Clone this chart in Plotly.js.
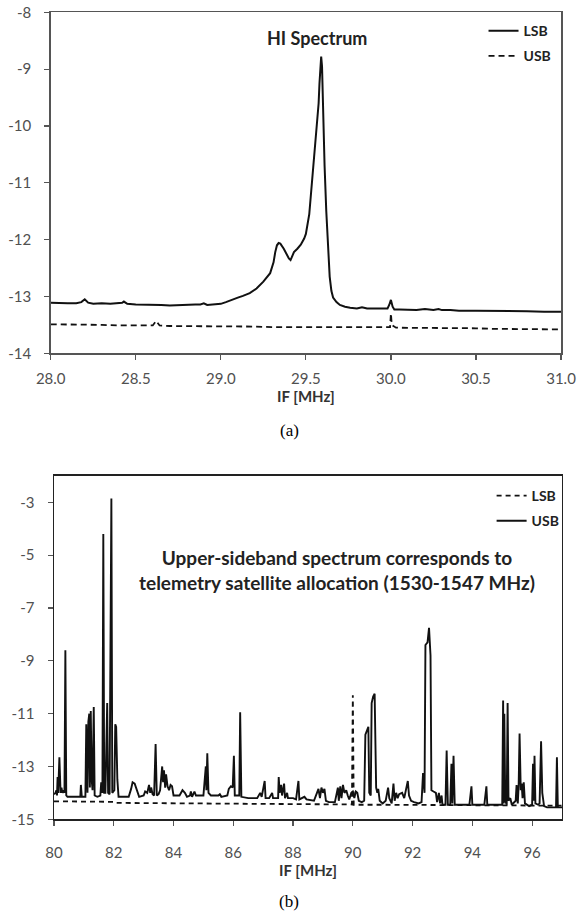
<!DOCTYPE html>
<html>
<head>
<meta charset="utf-8">
<script src="https://cdn.plot.ly/plotly-3.0.1.min.js"></script>
<style>html,body{margin:0;padding:0;background:#fff;}#chart{width:577px;height:911px;}</style>
</head>
<body>
<div id="chart"></div>
<script>
// ---------- Panel (a): HI spectrum ----------
const hiLsbX = [28.00,28.05,28.10,28.15,28.18,28.20,28.22,28.25,28.30,28.35,28.40,28.42,28.43,28.45,28.50,28.55,28.60,28.65,28.70,28.75,28.80,28.85,28.88,28.90,28.92,28.95,29.00,29.03,29.06,29.10,29.13,29.17,29.21,29.25,29.29,29.31,29.32,29.33,29.34,29.35,29.37,29.38,29.40,29.41,29.42,29.43,29.45,29.47,29.49,29.50,29.52,29.53,29.54,29.55,29.56,29.57,29.575,29.58,29.585,29.59,29.595,29.60,29.61,29.62,29.63,29.64,29.65,29.66,29.68,29.70,29.73,29.76,29.80,29.83,29.86,29.90,29.95,29.98,29.99,30.00,30.01,30.02,30.05,30.10,30.15,30.20,30.25,30.28,30.30,30.35,30.40,30.50,30.60,30.70,30.80,30.90,31.00];
const hiLsbY = [-13.11,-13.12,-13.12,-13.12,-13.10,-13.05,-13.11,-13.13,-13.12,-13.13,-13.12,-13.11,-13.09,-13.13,-13.14,-13.14,-13.14,-13.15,-13.16,-13.15,-13.15,-13.14,-13.14,-13.12,-13.15,-13.14,-13.13,-13.10,-13.06,-13.02,-12.99,-12.94,-12.86,-12.74,-12.59,-12.40,-12.22,-12.10,-12.06,-12.07,-12.16,-12.22,-12.33,-12.36,-12.30,-12.22,-12.16,-12.09,-11.98,-11.90,-11.55,-11.20,-10.85,-10.45,-10.15,-9.85,-9.60,-9.25,-8.92,-8.78,-8.95,-9.60,-10.70,-11.50,-12.20,-12.65,-12.90,-13.02,-13.10,-13.15,-13.18,-13.20,-13.21,-13.19,-13.21,-13.21,-13.22,-13.21,-13.15,-13.06,-13.18,-13.23,-13.23,-13.23,-13.24,-13.22,-13.24,-13.22,-13.24,-13.24,-13.25,-13.25,-13.25,-13.26,-13.26,-13.27,-13.27];

const hiUsbX = [28.0,28.1,28.2,28.3,28.4,28.5,28.6,28.62,28.64,28.7,28.8,28.9,29.0,29.1,29.2,29.3,29.4,29.5,29.6,29.7,29.8,29.9,29.995,30.0,30.005,30.03,30.1,30.2,30.3,30.4,30.5,30.6,30.7,30.8,30.9,31.0];
const hiUsbY = [-13.49,-13.49,-13.49,-13.50,-13.51,-13.51,-13.51,-13.43,-13.51,-13.52,-13.52,-13.52,-13.53,-13.53,-13.53,-13.54,-13.54,-13.54,-13.54,-13.55,-13.55,-13.54,-13.54,-13.30,-13.50,-13.55,-13.55,-13.55,-13.56,-13.56,-13.56,-13.57,-13.57,-13.57,-13.58,-13.58];

const aXTicks = [28.0,28.5,29.0,29.5,30.0,30.5,31.0];
const aXTickText = ['28.0','28.5','29.0','29.5','30.0','30.5','31.0'];
const aYTicks = [-14,-13,-12,-11,-10,-9,-8];
const aYTickText = ['-14','-13','-12','-11','-10','-9','-8'];

// ---------- Panel (b): upper-sideband spectrum ----------
const bUsbX = [80.00,80.05,80.08,80.10,80.12,80.14,80.18,80.20,80.22,80.25,80.28,80.32,80.35,80.38,80.41,80.45,80.6,80.8,80.88,80.9,80.93,81.05,81.08,81.12,81.15,81.18,81.2,81.23,81.26,81.29,81.33,81.36,81.45,81.55,81.58,81.62,81.65,81.68,81.72,81.78,81.81,81.86,81.92,81.95,82.02,82.05,82.08,82.12,82.16,82.3,82.5,82.58,82.63,82.7,82.78,82.85,83.0,83.05,83.12,83.18,83.22,83.25,83.3,83.35,83.4,83.44,83.5,83.55,83.62,83.65,83.68,83.72,83.75,83.8,83.85,83.9,83.95,84.0,84.2,84.3,84.38,84.45,84.55,84.58,84.62,84.7,84.75,84.85,85.0,85.08,85.1,85.13,85.17,85.25,85.5,85.55,85.6,85.8,85.85,85.92,85.98,86.02,86.05,86.2,86.23,86.27,86.5,86.8,86.9,86.95,87.05,87.08,87.2,87.3,87.33,87.5,87.52,87.55,87.6,87.63,87.7,87.73,87.8,87.83,88.0,88.1,88.18,88.21,88.3,88.38,88.45,88.7,88.8,88.85,88.9,88.95,89.0,89.05,89.1,89.2,89.4,89.5,89.53,89.58,89.62,89.67,89.72,89.78,89.83,89.88,89.95,90.0,90.05,90.1,90.15,90.2,90.3,90.38,90.42,90.47,90.52,90.55,90.6,90.63,90.68,90.73,90.78,90.82,90.85,90.9,91.0,91.1,91.18,91.22,91.3,91.36,91.4,91.45,91.5,91.55,91.65,91.72,91.8,91.84,91.88,91.95,92.05,92.2,92.3,92.35,92.4,92.43,92.5,92.55,92.6,92.63,92.7,92.78,92.82,92.88,92.92,92.97,93.0,93.1,93.14,93.18,93.26,93.3,93.33,93.37,93.41,93.6,93.9,93.97,94.0,94.4,94.47,94.5,94.9,95.0,95.03,95.05,95.07,95.1,95.15,95.18,95.21,95.27,95.32,95.45,95.48,95.52,95.55,95.58,95.62,95.65,95.68,95.72,95.76,95.9,96.0,96.03,96.06,96.08,96.11,96.2,96.25,96.3,96.34,96.4,96.5,96.8,96.83,96.86,97.0];
const bUsbY = [-14.05,-14.0,-13.9,-14.1,-13.4,-14.0,-12.65,-13.9,-14.0,-13.8,-14.0,-13.9,-14.0,-8.6,-14.1,-14.15,-14.15,-14.15,-14.15,-13.7,-14.15,-14.15,-11.4,-14.0,-11.3,-11.0,-13.8,-10.9,-13.5,-13.9,-10.75,-14.1,-14.15,-14.1,-13.6,-14.0,-4.2,-14.0,-14.0,-10.6,-14.0,-14.05,-2.85,-14.0,-13.9,-11.4,-11.5,-13.5,-14.15,-14.15,-14.15,-13.85,-13.6,-13.65,-13.9,-14.15,-14.1,-13.95,-14.0,-13.7,-14.0,-13.8,-14.05,-14.1,-12.15,-14.1,-14.05,-13.9,-13.0,-13.6,-13.15,-13.8,-13.3,-13.75,-13.9,-13.7,-13.75,-14.1,-14.1,-13.9,-14.0,-14.15,-14.1,-13.95,-14.15,-13.95,-14.1,-14.1,-14.1,-13.0,-13.9,-12.5,-14.0,-14.1,-14.1,-14.05,-14.15,-14.1,-13.85,-13.75,-13.8,-12.6,-14.1,-14.1,-10.95,-14.15,-14.2,-14.2,-14.0,-14.15,-13.55,-14.2,-14.2,-14.0,-14.2,-14.2,-13.4,-14.0,-13.7,-14.1,-13.65,-14.2,-14.0,-14.2,-14.2,-14.25,-13.55,-14.25,-14.2,-14.15,-14.25,-14.3,-14.0,-13.85,-14.2,-13.8,-14.0,-13.85,-14.3,-14.35,-14.35,-13.8,-14.3,-13.75,-14.2,-13.7,-14.0,-13.9,-14.1,-14.25,-14.0,-13.95,-14.2,-13.95,-14.0,-14.3,-14.35,-14.3,-11.8,-11.6,-11.5,-14.0,-14.1,-10.6,-10.35,-10.25,-13.8,-14.0,-13.85,-14.3,-14.4,-14.3,-13.8,-14.2,-14.4,-13.65,-14.3,-14.0,-14.2,-14.05,-14.0,-14.2,-13.65,-13.55,-14.1,-14.3,-14.35,-14.4,-14.35,-13.25,-14.0,-8.4,-8.3,-7.75,-8.8,-13.9,-13.95,-14.0,-14.35,-14.0,-14.4,-14.1,-14.45,-14.45,-12.4,-14.45,-14.45,-12.9,-14.4,-12.6,-14.45,-14.45,-14.45,-13.75,-14.45,-14.45,-13.75,-14.45,-14.45,-14.45,-10.5,-14.4,-11.0,-14.3,-14.45,-10.6,-14.3,-14.2,-14.45,-14.3,-13.7,-14.4,-13.7,-11.75,-13.9,-13.65,-14.2,-13.6,-14.4,-14.5,-14.45,-12.9,-14.3,-12.6,-14.4,-14.45,-14.4,-12.05,-14.0,-14.5,-14.55,-14.55,-12.65,-14.55,-14.55];

const bLsbX = [80.0,81.0,81.95,82.0,82.05,83.0,84.0,85.0,86.0,87.0,88.0,89.0,89.97,90.0,90.03,91.0,92.0,93.0,94.0,95.0,96.0,97.0];
const bLsbY = [-14.32,-14.32,-14.33,-14.34,-14.38,-14.39,-14.40,-14.41,-14.42,-14.42,-14.43,-14.44,-14.44,-10.3,-14.45,-14.45,-14.46,-14.46,-14.47,-14.47,-14.48,-14.48];

const bXTicks = [80,82,84,86,88,90,92,94,96];
const bXTickText = ['80','82','84','86','88','90','92','94','96'];
const bYTicks = [-15,-13,-11,-9,-7,-5,-3];
const bYTickText = ['-15','-13','-11','-9','-7','-5','-3'];

const FONT = 'Lato, "Open Sans", sans-serif';
const tickFont = {family: FONT, size: 15, color: '#505050'};

const traces = [
  {x: hiLsbX, y: hiLsbY, name: 'LSB', type: 'scatter', mode: 'lines', xaxis: 'x', yaxis: 'y',
   line: {color: '#111', width: 2}, legend: 'legend', legendgroup: 'a1'},
  {x: hiUsbX, y: hiUsbY, name: 'USB', type: 'scatter', mode: 'lines', xaxis: 'x', yaxis: 'y',
   line: {color: '#111', width: 1.8, dash: '6px,4px'}, legend: 'legend', legendgroup: 'a2'},
  {x: bLsbX, y: bLsbY, name: 'LSB', type: 'scatter', mode: 'lines', xaxis: 'x2', yaxis: 'y2',
   line: {color: '#111', width: 1.8, dash: '5px,4px'}, legend: 'legend2', legendgroup: 'b1'},
  {x: bUsbX, y: bUsbY, name: 'USB', type: 'scatter', mode: 'lines', xaxis: 'x2', yaxis: 'y2',
   line: {color: '#111', width: 1.9}, legend: 'legend2', legendgroup: 'b2'}
];

const axisBase = {
  showgrid: false, zeroline: false, showline: true, mirror: true,
  ticks: 'outside', ticklen: 5, tickwidth: 1.2, tickfont: tickFont, automargin: false,
  fixedrange: true
};

const layout = {
  width: 577, height: 911,
  margin: {l: 0, r: 0, t: 0, b: 0},
  paper_bgcolor: '#fff', plot_bgcolor: '#fff',
  font: {family: FONT, color: '#222'},
  xaxis: Object.assign({}, axisBase, {
    domain: [0.0879, 0.9723], range: [28, 31], anchor: 'y',
    tickmode: 'array', tickvals: aXTicks, ticktext: aXTickText,
    linecolor: '#555', tickcolor: '#555', linewidth: 1.5, ticklabelstandoff: 6,
    title: {text: 'IF [MHz]', font: {family: FONT, size: 15, color: '#333', weight: 'bold'}, standoff: 5}
  }),
  yaxis: Object.assign({}, axisBase, {
    domain: [0.6122, 0.9865], range: [-14, -8], anchor: 'x',
    tickmode: 'array', tickvals: aYTicks, ticktext: aYTickText,
    linecolor: '#555', tickcolor: '#555', linewidth: 1.5, ticklabelstandoff: 10
  }),
  xaxis2: Object.assign({}, axisBase, {
    domain: [0.0936, 0.9740], range: [80, 97], anchor: 'y2',
    tickmode: 'array', tickvals: bXTicks, ticktext: bXTickText,
    linecolor: '#222', tickcolor: '#555', linewidth: 1.5, ticklabelstandoff: 14,
    title: {text: 'IF [MHz]', font: {family: FONT, size: 15, color: '#333', weight: 'bold'}, standoff: 5}
  }),
  yaxis2: Object.assign({}, axisBase, {
    domain: [0.1007, 0.4775], range: [-15, -2], anchor: 'x2',
    tickmode: 'array', tickvals: bYTicks, ticktext: bYTickText,
    linecolor: '#222', tickcolor: '#555', linewidth: 1.5, ticklabelstandoff: 10
  }),
  showlegend: true,
  legend: {x: 0.838, y: 0.9835, xanchor: 'left', yanchor: 'top', bgcolor: 'rgba(0,0,0,0)',
           font: {family: FONT, size: 14, color: '#222', weight: 'bold'}, itemwidth: 30, tracegroupgap: 4},
  legend2: {x: 0.852, y: 0.4731, xanchor: 'left', yanchor: 'top', bgcolor: 'rgba(0,0,0,0)',
            font: {family: FONT, size: 14, color: '#222', weight: 'bold'}, itemwidth: 30, tracegroupgap: 4},
  annotations: [
    {text: 'HI Spectrum', xref: 'paper', yref: 'paper', x: 0.549, y: 0.9583, xanchor: 'center', yanchor: 'middle',
     showarrow: false, font: {family: FONT, size: 18, color: '#222', weight: 'bold'}},
    {text: 'Upper-sideband spectrum corresponds to<br>telemetry satellite allocation (1530-1547 MHz)',
     xref: 'paper', yref: 'paper', x: 0.584, y: 0.3738, xanchor: 'center', yanchor: 'middle',
     showarrow: false, font: {family: FONT, size: 19, color: '#222', weight: 'bold'}},
    {text: '(a)', xref: 'paper', yref: 'paper', x: 0.501, y: 0.5269, xanchor: 'center', yanchor: 'middle',
     showarrow: false, font: {family: '"Liberation Serif", "Times New Roman", serif', size: 17, color: '#000'}},
    {text: '(b)', xref: 'paper', yref: 'paper', x: 0.501, y: 0.0099, xanchor: 'center', yanchor: 'middle',
     showarrow: false, font: {family: '"Liberation Serif", "Times New Roman", serif', size: 17, color: '#000'}}
  ]
};

Plotly.newPlot('chart', traces, layout, {staticPlot: true, displayModeBar: false});
</script>
</body>
</html>
